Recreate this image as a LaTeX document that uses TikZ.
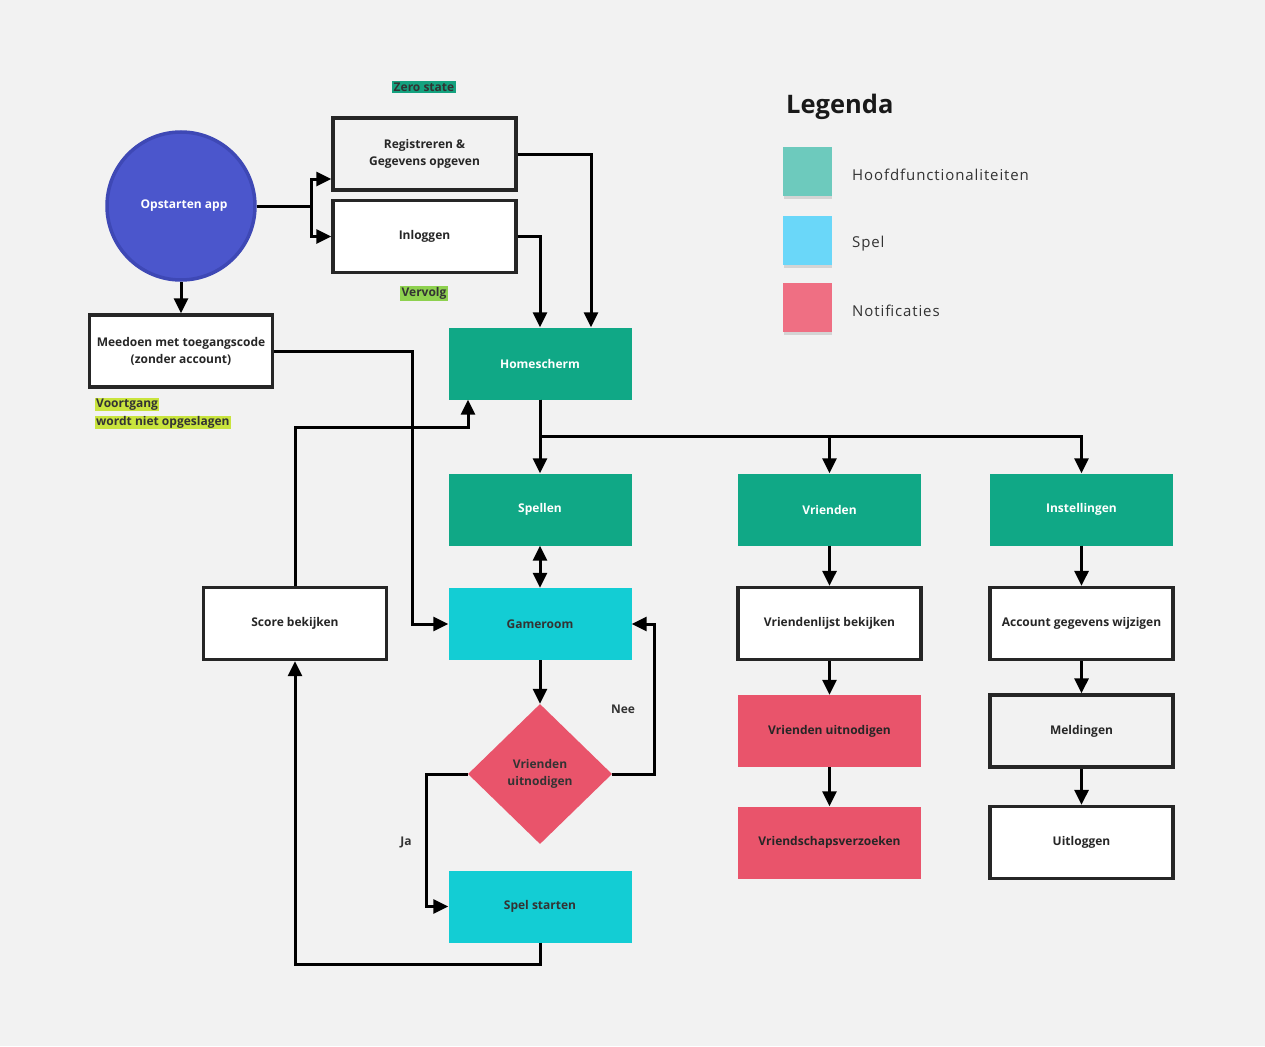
\documentclass[tikz,border=0pt]{standalone}
\usepackage{fontspec}
\setmainfont{Open Sans}
\usetikzlibrary{arrows.meta,shapes.geometric}

\definecolor{bg}{HTML}{F2F2F2}
\definecolor{mainteal}{HTML}{10A886}
\definecolor{gamecyan}{HTML}{13CDD4}
\definecolor{notired}{HTML}{E9546B}
\definecolor{startblue}{HTML}{4B56CC}
\definecolor{startrim}{HTML}{3E48B5}
\definecolor{tagteal}{HTML}{14A27F}
\definecolor{taggreen}{HTML}{8ED14F}
\definecolor{tagyellow}{HTML}{C9E43D}
\definecolor{legteal}{HTML}{6DCABD}
\definecolor{legcyan}{HTML}{6AD7F9}
\definecolor{legred}{HTML}{EF6F83}
\definecolor{ink}{HTML}{262626}

\tikzset{
  boxbase/.style={minimum width=183, minimum height=72, inner sep=0,
    align=center, font=\fontsize{12}{17}\selectfont\bfseries},
  plainbox/.style={boxbase, draw=ink, line width=3.3, fill=white, text=ink},
  greybox/.style={plainbox, fill=bg},
  tealbox/.style={boxbase, fill=mainteal, text=white},
  cyanbox/.style={boxbase, fill=gamecyan, text=black!80},
  redbox/.style={boxbase, fill=notired, text=black!85},
  tag/.style={inner xsep=1.5, inner ysep=1.5, font=\fontsize{12}{15}\selectfont\bfseries, text=black!80},
  arr/.style={draw=black, line width=3, -{Triangle[length=15, width=14]}},
  arrboth/.style={draw=black, line width=3, {Triangle[length=15, width=14]}-{Triangle[length=15, width=14]}},
  legsq/.style={minimum width=49, minimum height=49, inner sep=0},
  leglabel/.style={anchor=west, inner sep=0, text=black!80,
    font=\fontsize{15}{18}\selectfont\addfontfeatures{LetterSpace=6}},
  note/.style={inner sep=0, text=black!80, font=\fontsize{12}{15}\selectfont\bfseries}
}

\begin{document}
\begin{tikzpicture}[x=1pt, y=-1pt]
  % canvas
  \fill[bg] (0,0) rectangle (1265,1046);
  \useasboundingbox (0,0) rectangle (1265,1046);

  % entry point
  \node[circle, minimum size=148, fill=startblue, draw=startrim, line width=3.5,
        text=white, font=\fontsize{12}{16}\selectfont\bfseries] (start) at (181,206) {\hspace*{6pt}Opstarten app};

  % account steps
  \node[greybox] (reg) at (424.5,154) {Registreren \&\\Gegevens opgeven};
  \node[plainbox] (login) at (424.5,236.5) {Inloggen};
  \node[plainbox] (guest) at (181,351) {Meedoen met toegangscode\\(zonder account)};

  % tags
  \node[tag, fill=tagteal] (zero) at (424,87) {Zero state};
  \node[tag, fill=taggreen] (next) at (424,293) {Vervolg};
  \node[tag, fill=tagyellow, anchor=north west, inner xsep=1, inner ysep=0.5] (prog1) at (95,398) {Voortgang};
  \node[tag, fill=tagyellow, anchor=north west, inner xsep=1, inner ysep=0.5] (prog2) at (95,416) {wordt niet opgeslagen};

  % main functions
  \node[tealbox] (home) at (540,363.5) {Homescherm};
  \node[tealbox] (games) at (540,509.5) {Spellen};
  \node[tealbox] (friends) at (829.5,509.5) {Vrienden};
  \node[tealbox] (settings) at (1081.5,509.5) {Instellingen};

  % game flow
  \node[cyanbox] (room) at (540,624) {Gameroom};
  \node[plainbox] (score) at (295,623.5) {Score bekijken};
  \node[diamond, minimum width=144, minimum height=140, inner sep=0, aspect=1,
        fill=notired, text=black!80, align=center,
        font=\fontsize{12}{17}\selectfont\bfseries] (ask) at (540,774) {Vrienden\\uitnodigen};
  \node[cyanbox] (play) at (540,906.5) {Spel starten};

  % friends column
  \node[plainbox] (list) at (829.5,623.5) {Vriendenlijst bekijken};
  \node[redbox] (invite) at (829.5,731) {Vrienden uitnodigen};
  \node[redbox] (requests) at (829.5,842.5) {Vriendschapsverzoeken};

  % settings column
  \node[plainbox] (account) at (1081.5,623.5) {Account gegevens wijzigen};
  \node[greybox] (alerts) at (1081.5,731) {Meldingen};
  \node[plainbox] (logout) at (1081.5,842.5) {Uitloggen};

  % connectors: start
  \draw[arr] (start.east) -- ++(55,0) coordinate (fork) |- ([yshift=-25pt]reg.west);
  \draw[arr] (fork) |- (login.west);
  \draw[arr] (start.south) -- (guest.north);
  \draw[arr] (reg.east) -| ([xshift=51pt]home.north);
  \draw[arr] (login.east) -| (home.north);

  % connectors: home menu
  \draw[arr] (home.south) -- (games.north);
  \draw[arr] (home.south) -- ++(0,37) coordinate (split) -| (friends.north);
  \draw[arr] (split) -| (settings.north);

  % connectors: game flow
  \draw[arrboth] (games.south) -- (room.north);
  \draw[arr] (guest.east) -- ++(138,0) |- (room.west);
  \draw[arr] (score.north) -- ++(0,-158) -| ([xshift=-72pt]home.south);
  \draw[arr] (room.south) -- (ask.north);
  \draw[arr] (ask.east) -- ++(42,0) |- (room.east);
  \draw[arr] (ask.west) -- ++(-41,0) |- (play.west);
  \draw[arr] (play.south) -- ++(0,22) -| (score.south);
  \node[note] (nee) at (623,709) {Nee};
  \node[note] (ja) at (406,842) {Ja};

  % connectors: friends and settings
  \draw[arr] (friends.south) -- (list.north);
  \draw[arr] (list.south) -- (invite.north);
  \draw[arr] (invite.south) -- (requests.north);
  \draw[arr] (settings.south) -- (account.north);
  \draw[arr] (account.south) -- (alerts.north);
  \draw[arr] (alerts.south) -- (logout.north);

  % legend
  \node[anchor=west, inner sep=0, text=black!90,
        font=\fontsize{25.5}{30}\selectfont\bfseries] (legtitle) at (786,107) {Legenda};
  \foreach \c/\y/\lbl/\nm in {legteal/171/Hoofdfunctionaliteiten/lone,
                              legcyan/240/Spel/ltwo,
                              legred/307/Notificaties/lthree}{
    \fill[black, opacity=0.12] (784,\y+22) rectangle (832,\y+28);
    \node[legsq, fill=\c] (\nm) at (807.5,\y) {};
    \node[leglabel] (\nm-text) at (852,\y+4) {\lbl};
  }
\end{tikzpicture}
\end{document}
